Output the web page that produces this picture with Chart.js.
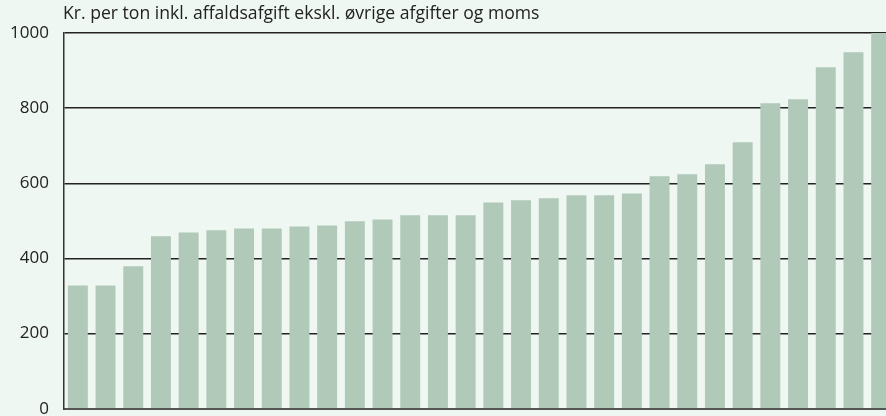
<!DOCTYPE html>
<html>
<head>
<meta charset="utf-8">
<script src="https://cdn.jsdelivr.net/npm/chart.js@4/dist/chart.umd.min.js"></script>
<style>
  html, body { margin: 0; padding: 0; background: #eef7f1; overflow: hidden; }
  #wrap { position: relative; width: 896px; height: 416px; overflow: hidden; }
  #title {
    position: absolute; left: 63px; top: 0px;
    font-family: "Open Sans", sans-serif; font-size: 17.6px; color: #222;
    white-space: nowrap;
  }
  canvas { display: block; }
</style>
</head>
<body>
<div id="wrap">
  <div id="title">Kr. per ton inkl. affaldsafgift ekskl. øvrige afgifter og moms</div>
  <canvas id="chart" width="896" height="434"></canvas>
</div>
<script>
  /* ── Data ── */
  var labels = ["1", "2", "3", "4", "5", "6", "7", "8", "9", "10",
    "11", "12", "13", "14", "15", "16", "17", "18", "19", "20",
    "21", "22", "23", "24", "25", "26", "27", "28", "29", "30"];
  var prices = [328, 328, 379, 459, 469, 475, 480, 480, 485, 488,
    499, 504, 515, 515, 515, 549, 555, 560, 568, 568,
    573, 619, 624, 651, 709, 813, 824, 909, 949, 1000];
  var yTicks = [0, 200, 400, 600, 800, 1000];

  /* ── Chart ── */
  var ctx = document.getElementById("chart").getContext("2d");
  new Chart(ctx, {
    type: "bar",
    data: {
      labels: labels,
      datasets: [{
        data: prices,
        backgroundColor: "#b0c9b9",
        borderWidth: 0,
        categoryPercentage: 1,
        barPercentage: 0.72
      }]
    },
    options: {
      responsive: false,
      animation: false,
      layout: { padding: { top: 33, bottom: 8.6, right: 1, left: 0 } },
      plugins: { legend: { display: false }, tooltip: { enabled: false } },
      scales: {
        x: {
          afterFit: function (s) { s.height = 0; },
          ticks: { display: false },
          grid: { display: false, drawTicks: false },
          border: { color: "#555", width: 2 }
        },
        y: {
          min: 0,
          max: 1000,
          afterFit: function (s) { s.width = 64; },
          afterBuildTicks: function (s) {
            s.ticks = yTicks.map(function (v) { return { value: v }; });
          },
          ticks: {
            padding: 15,
            color: "#222",
            font: { family: "Open Sans", size: 17 },
            callback: function (v) { return String(v); }
          },
          grid: { color: "#222", lineWidth: 1.5, drawTicks: false },
          border: { color: "#333", width: 1.5 }
        }
      }
    }
  });
</script>
</body>
</html>
